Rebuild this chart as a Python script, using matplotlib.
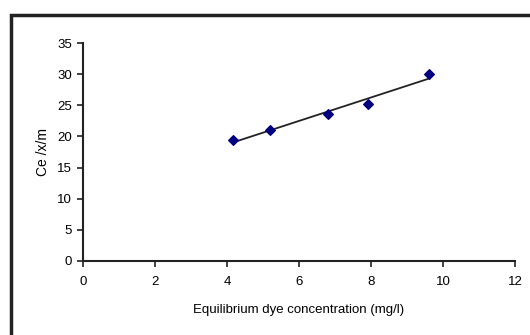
import numpy as np
import matplotlib.pyplot as plt
from matplotlib.patches import Rectangle

# equilibrium dye concentration vs Ce/(x/m)
conc = [4.17, 5.19, 6.8, 7.91, 9.62]
ce_xm = [19.5, 21.0, 23.6, 25.2, 30.1]

x_ticks = [0, 2, 4, 6, 8, 10, 12]
y_ticks = [0, 5, 10, 15, 20, 25, 30, 35]

plt.rcParams['font.family'] = ['Liberation Sans', 'DejaVu Sans']

fig = plt.figure(figsize=(5.3, 3.35), dpi=100)
ax = fig.add_axes([0.1566, 0.2209, 0.8151, 0.6507])

# linear trend line through the points
k, b = np.polyfit(conc, ce_xm, 1)
xs = np.array([min(conc), max(conc)])
ax.plot(xs, k * xs + b, color='#222222', lw=1.3, zorder=2)
ax.scatter(conc, ce_xm, marker='D', s=24, color='#000080', zorder=3)

ax.set_xlim(0, 12)
ax.set_ylim(0, 35)
ax.set_xticks(x_ticks)
ax.set_yticks(y_ticks)
ax.tick_params(labelsize=9.5, length=4, width=1.2, color='#222222')
ax.tick_params(axis='x', pad=7)
ax.tick_params(axis='y', pad=4)

ax.spines['top'].set_visible(False)
ax.spines['right'].set_visible(False)
for s in ['left', 'bottom']:
    ax.spines[s].set_linewidth(1.5)
    ax.spines[s].set_color('#222222')

ax.set_xlabel('Equilibrium dye concentration (mg/l)', fontsize=9.5, labelpad=11)
ax.set_ylabel('Ce /x/m', fontsize=10, labelpad=5)

# outer frame (only top and left edges fall inside the image)
fig.add_artist(Rectangle((0.021, -0.1), 1.1, 1.055, transform=fig.transFigure,
                         fill=False, lw=2.5, edgecolor='#222222'))

fig.savefig('out.png', dpi=100)
